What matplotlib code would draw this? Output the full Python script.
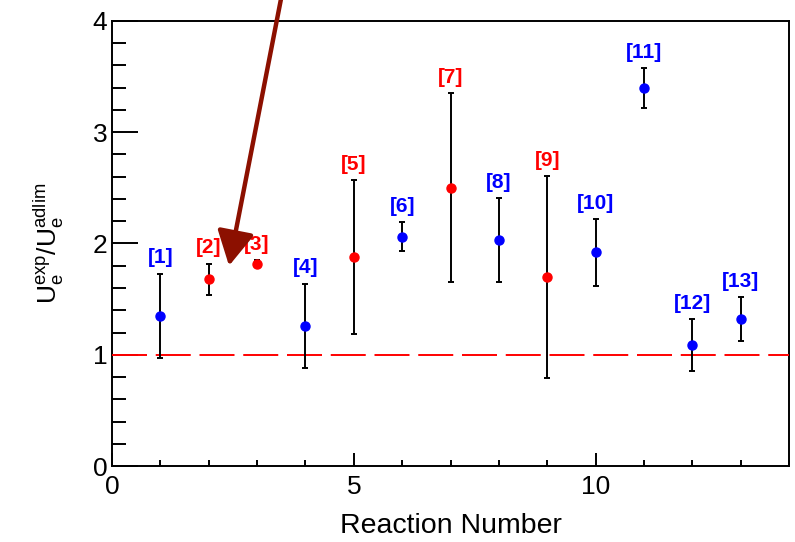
import numpy as np
import matplotlib
matplotlib.use("Agg")
import matplotlib.pyplot as plt
from matplotlib.ticker import MultipleLocator

plt.rcParams['font.family'] = ['Liberation Sans', 'DejaVu Sans']
plt.rcParams['mathtext.default'] = 'regular'

# values
reaction = [1, 2, 3, 4, 5, 6, 7, 8, 9, 10, 11, 12, 13]
ratio = [1.35, 1.68, 1.82, 1.26, 1.88, 2.06, 2.50, 2.03, 1.70, 1.92, 3.40, 1.09, 1.32]
ratio_err = [0.38, 0.14, 0.03, 0.38, 0.69, 0.13, 0.85, 0.38, 0.91, 0.30, 0.18, 0.235, 0.20]
point_colors = ['blue', 'red', 'red', 'blue', 'red', 'blue', 'red',
                'blue', 'red', 'blue', 'blue', 'blue', 'blue']
ref_labels = ['[%d]' % n for n in reaction]


def generate_plot():
    fig = plt.figure(figsize=(7.95, 5.42), dpi=100)
    ax = fig.add_axes([0.1409, 0.1402, 0.8516, 0.8211])

    # reference line at 1, drawn above the tick marks
    ax.plot([0, 14], [1, 1], color='red', lw=1.4, dashes=(18, 4.5), zorder=2.6)

    for x, y, e, c, lab in zip(reaction, ratio, ratio_err, point_colors, ref_labels):
        ax.errorbar(x, y, yerr=e, fmt='o', color=c, ms=6.5, mec=c,
                    ecolor='black', elinewidth=1.4, capsize=2.5, capthick=1.4, zorder=3)
        ax.text(x, y + e + 0.14, lab, color=c, fontsize=15, fontweight='bold',
                ha='center', va='center', zorder=4)

    # arrow coming from above the frame
    ax.annotate('', xy=(2.42, 1.80), xytext=(3.54, 4.3), xycoords='data',
                annotation_clip=False,
                arrowprops=dict(arrowstyle='-|>,head_length=0.5,head_width=0.27',
                                mutation_scale=42, lw=3.2, color='#8c1000',
                                shrinkA=0, shrinkB=0), zorder=5)

    ax.set_xlim(0, 14)
    ax.set_ylim(0, 4)
    ax.xaxis.set_major_locator(MultipleLocator(5))
    ax.xaxis.set_minor_locator(MultipleLocator(1))
    ax.yaxis.set_major_locator(MultipleLocator(1))
    ax.yaxis.set_minor_locator(MultipleLocator(0.2))

    ax.tick_params(axis='both', which='both', direction='in', width=1.4,
                   top=False, right=False, labelsize=19)
    ax.tick_params(axis='x', which='major', length=9.4, pad=6.5)
    ax.tick_params(axis='x', which='minor', length=4.3)
    ax.tick_params(axis='y', which='major', length=18.7, pad=3.5)
    ax.tick_params(axis='y', which='minor', length=10)

    for sp in ax.spines.values():
        sp.set_linewidth(1.4)

    ax.set_xlabel('Reaction Number', fontsize=20.5)
    ax.xaxis.set_label_coords(0.5, -0.105)
    ax.set_ylabel(r'$U_{e}^{exp}/U_{e}^{adlim}$', fontsize=19)
    ax.yaxis.set_label_coords(-0.068, 0.5)

    fig.savefig('out.png', dpi=100)


generate_plot()
